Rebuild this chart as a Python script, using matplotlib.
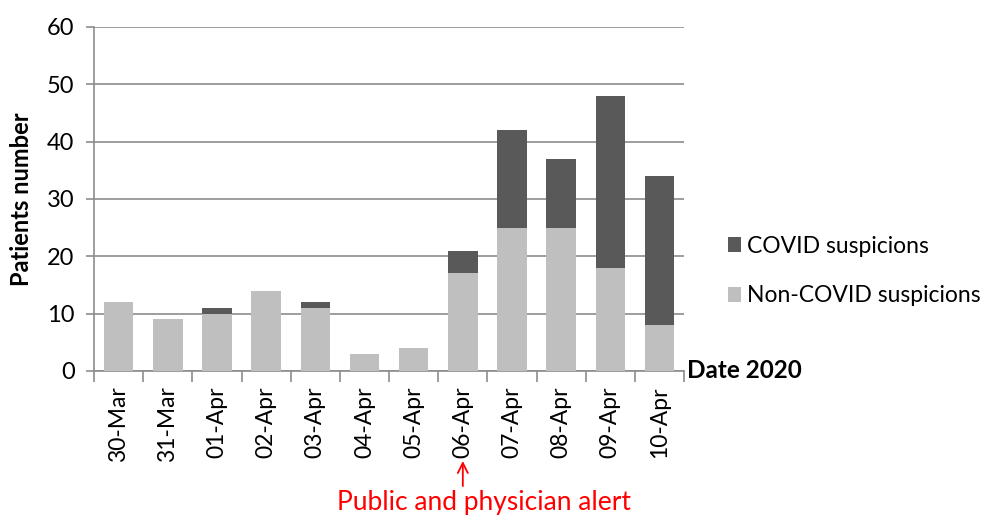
import numpy as np
import matplotlib.pyplot as plt

# Daily admissions, 30 Mar - 10 Apr 2020
dates = ["30-Mar", "31-Mar", "01-Apr", "02-Apr", "03-Apr", "04-Apr",
         "05-Apr", "06-Apr", "07-Apr", "08-Apr", "09-Apr", "10-Apr"]
non_covid = [12, 9, 10, 14, 11, 3, 4, 17, 25, 25, 18, 8]
covid = [0, 0, 1, 0, 1, 0, 0, 4, 17, 12, 30, 26]

plt.rcParams['font.family'] = ['Lato', 'DejaVu Sans']

fig = plt.figure(figsize=(9.9, 5.18), dpi=100)
ax = fig.add_axes([0.095, 0.284, 0.596, 0.664])

x = np.arange(len(dates))
ax.bar(x, non_covid, width=0.6, color="#bfbfbf", label="Non-COVID suspicions", zorder=3)
ax.bar(x, covid, width=0.6, bottom=non_covid, color="#595959", label="COVID suspicions", zorder=3)

ax.set_xlim(-0.5, len(dates) - 0.5)
ax.set_ylim(0, 60)
ax.set_yticks(np.arange(0, 61, 10))
ax.yaxis.grid(True, color="#8c8c8c", linewidth=1.2, zorder=0)
ax.tick_params(axis="y", labelsize=17, length=6, color="#8c8c8c", width=1.2, pad=8)

# category labels at the centres, tick marks at the boundaries
ax.set_xticks(x)
ax.set_xticklabels(dates, rotation=90, fontsize=16.5)
ax.tick_params(axis="x", which="major", length=0, pad=11)
ax.set_xticks(np.arange(-0.5, len(dates), 1), minor=True)
ax.tick_params(axis="x", which="minor", length=8, color="#8c8c8c", width=1.2)

for s in ["top", "right"]:
    ax.spines[s].set_visible(False)
for s in ["left", "bottom"]:
    ax.spines[s].set_color("#8c8c8c")
    ax.spines[s].set_linewidth(1.2)

ax.set_ylabel("Patients number", fontsize=17, fontweight="bold", labelpad=10)
ax.text(1.005, 0, "Date 2020", transform=ax.transAxes, fontsize=17.5,
        fontweight="bold", va="center", ha="left")

handles, labels = ax.get_legend_handles_labels()
fig.legend(handles[::-1], labels[::-1], loc="upper left", bbox_to_anchor=(0.735, 0.545),
           frameon=False, fontsize=16.5, handlelength=0.6, handleheight=0.6,
           handletextpad=0.25, labelspacing=1.25, borderaxespad=0, borderpad=0)

# alert marker under 06-Apr
ax.annotate("", xy=(7, -0.262), xytext=(7, -0.335), xycoords=("data", "axes fraction"),
            textcoords=("data", "axes fraction"),
            arrowprops=dict(arrowstyle="->", color="red", lw=1.3, mutation_scale=18,
                            shrinkA=0, shrinkB=0),
            annotation_clip=False)
fig.text(0.489, 0.03, "Public and physician alert", color="red", fontsize=19,
         ha="center", va="center")

fig.savefig("out.png", dpi=100)
